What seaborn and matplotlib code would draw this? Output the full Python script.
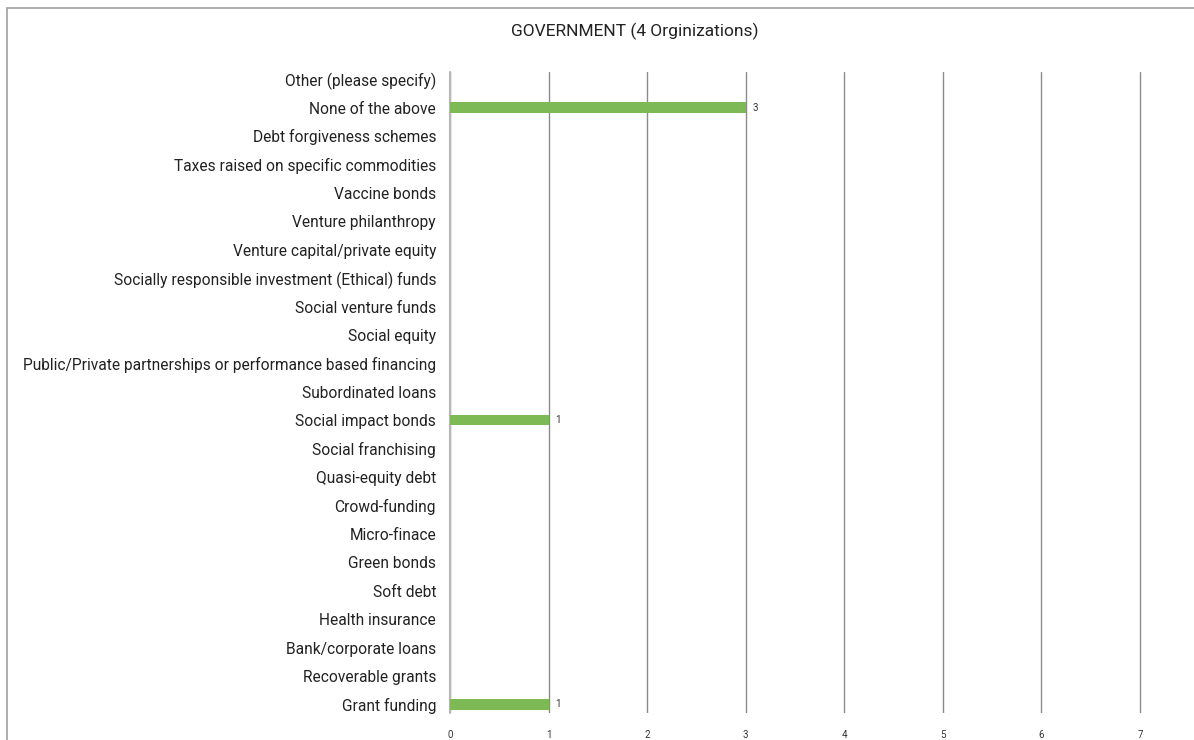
import matplotlib
matplotlib.use("Agg")
import matplotlib.pyplot as plt
import seaborn as sns
import pandas as pd
from matplotlib.patches import Rectangle

categories = [
    "Other (please specify)", "None of the above", "Debt forgiveness schemes",
    "Taxes raised on specific commodities", "Vaccine bonds", "Venture philanthropy",
    "Venture capital/private equity", "Socially responsible investment (Ethical) funds",
    "Social venture funds", "Social equity",
    "Public/Private partnerships or performance based financing", "Subordinated loans",
    "Social impact bonds", "Social franchising", "Quasi-equity debt", "Crowd-funding",
    "Micro-finace", "Green bonds", "Soft debt", "Health insurance",
    "Bank/corporate loans", "Recoverable grants", "Grant funding",
]
values = [0, 3, 0, 0, 0, 0, 0, 0, 0, 0, 0, 0, 1, 0, 0, 0, 0, 0, 0, 0, 0, 0, 1]
x_ticks = [0, 1, 2, 3, 4, 5, 6, 7]
title = "GOVERNMENT (4 Orginizations)"

sns.set_theme(style="white")
plt.rcParams["font.family"] = ["Roboto", "DejaVu Sans"]

df = pd.DataFrame({"category": categories, "value": values})

unit = (1140 - 450) / 7.0
xmax = 7.05
fig = plt.figure(figsize=(11.94, 7.4), dpi=100)
ax = fig.add_axes([450/1194, 1-713/740, (unit * xmax)/1194, (713-72)/740])

sns.barplot(data=df, x="value", y="category", orient="h", color="#7db954",
            saturation=1, width=0.36, ax=ax, order=categories, linewidth=0,
            edgecolor="none", zorder=3)

ax.set_xlim(0, xmax)
ax.set_ylim(len(categories) - 1 + 0.3, -0.25)
ax.set_xticks(x_ticks)
ax.set_xticklabels([str(t) for t in x_ticks], fontsize=7, color="#333333")
ax.tick_params(axis="x", length=0, pad=12)
ax.tick_params(axis="y", length=0, pad=10, labelsize=11.2, labelcolor="#222222")
ax.set_xlabel("")
ax.set_ylabel("")
for s in ax.spines.values():
    s.set_visible(False)
ax.grid(axis="x", color="#8c8c8c", linewidth=1.0)
ax.set_axisbelow(True)
ax.axvline(0, color="#b8b8b8", linewidth=1.5, zorder=1, clip_on=False)

for i, v in enumerate(values):
    if v > 0:
        ax.text(v + 0.07, i, str(v), fontsize=7, va="center", ha="left", color="#333333")

fig.text(635/1194, 1-31/740, title, ha="center", va="center", fontsize=12.5, color="#222222")

fig.patches.append(Rectangle((7/1194, -0.5), 2.0, 1 - 8/740 + 0.5, transform=fig.transFigure,
                             fill=False, edgecolor="#a0a0a0", linewidth=1.2))

fig.savefig("out.png", dpi=100)
